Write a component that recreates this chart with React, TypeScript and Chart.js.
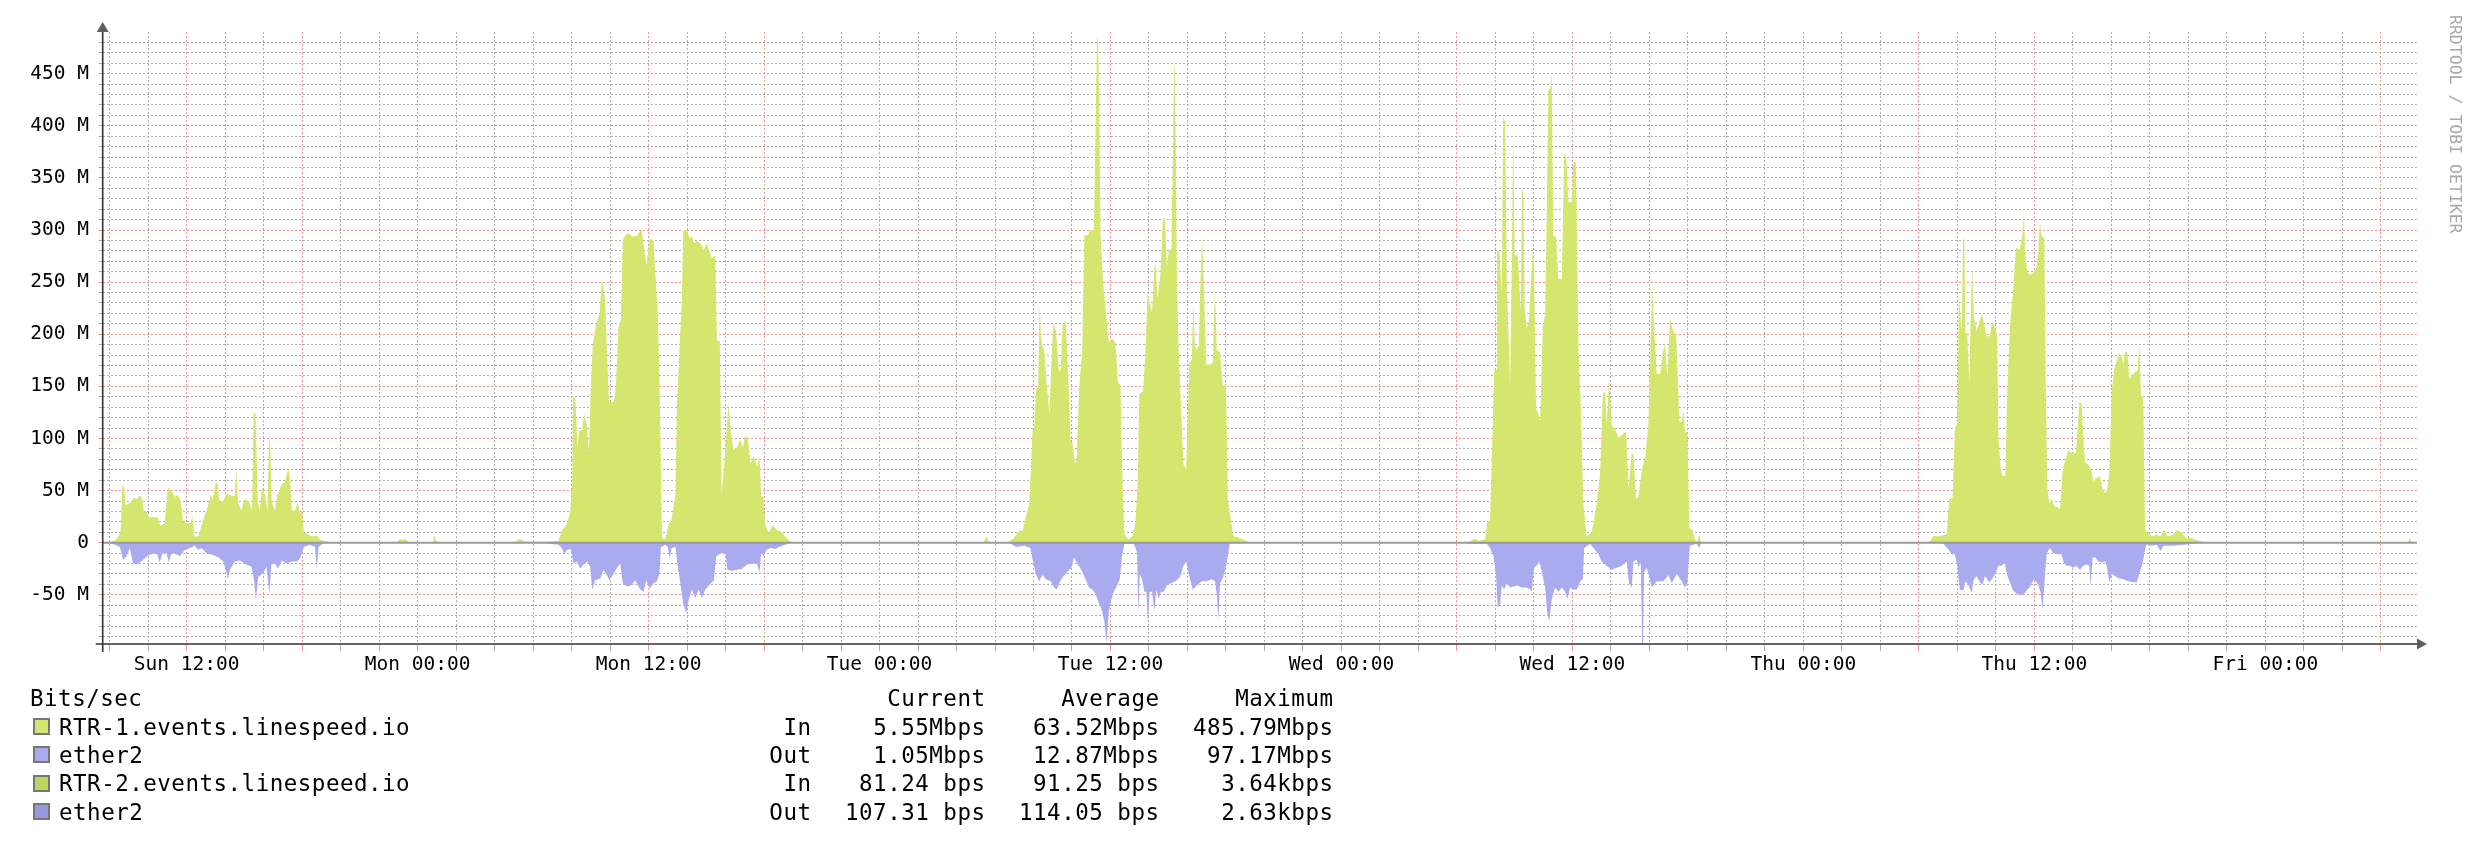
import React, { useEffect, useRef } from 'react';
import { Chart, registerables } from 'chart.js';

Chart.register(...registerables);

const FONT = "'DejaVu Sans Mono', monospace";

// ---- axes ----
const xRange = [7.64, 127.88]; // hours since Sun 00:00
const yRange = [-97.17, 490]; // Mbit/s
const xTickHours = [12, 24, 36, 48, 60, 72, 84, 96, 108, 120];
const xTickLabels = ['Sun 12:00', 'Mon 00:00', 'Mon 12:00', 'Tue 00:00', 'Tue 12:00', 'Wed 00:00', 'Wed 12:00', 'Thu 00:00', 'Thu 12:00', 'Fri 00:00'];

// ---- RTR-1 In (hour, Mbit/s) ----
const sunIn = [[7.64,0],[8.0,0.5],[8.36,3],[8.57,10],[8.66,55],[8.75,54],[8.84,36],[9.05,38],[9.26,43],[9.4,42],[9.57,45],[9.68,43],[9.78,30],[9.92,30],[10.06,24],[10.3,25],[10.5,24],[10.65,16],[10.87,19],[11.02,53],[11.2,50],[11.4,44],[11.57,46],[11.7,38],[11.83,20],[12.03,19],[12.2,19],[12.3,26],[12.4,6],[12.6,6],[12.87,22],[13.07,33],[13.25,46],[13.35,41],[13.52,58],[13.62,56],[13.7,39],[13.9,40],[14.07,47],[14.33,45],[14.5,45],[14.58,70],[14.67,39],[14.85,31],[15.0,42],[15.24,40],[15.4,31],[15.48,124],[15.58,124],[15.69,41],[15.8,30],[15.9,53],[16.07,46],[16.2,30],[16.29,108],[16.35,90],[16.42,39],[16.58,31],[16.72,46],[16.94,56],[17.1,58],[17.28,72],[17.38,60],[17.47,31],[17.64,31],[17.76,39],[17.9,28],[17.98,31],[18.1,10],[18.33,8],[18.5,6],[18.76,7],[18.93,3],[19.37,0.6],[19.5,0]];
const nightIn = [[22.9,0],[23.05,3],[23.4,3],[23.55,0],[24.8,0],[24.88,8],[24.96,2],[25.2,0],[28.1,0],[28.2,1],[28.3,0],[29.1,0],[29.2,3],[29.4,3],[29.6,1],[30.3,1]];
const monIn = [[30.6,1],[30.88,1],[31.32,2],[31.5,12],[31.72,17],[31.92,28],[32.03,57],[32.08,140],[32.2,138],[32.3,92],[32.4,108],[32.55,108],[32.65,124],[32.8,113],[32.9,86],[33.0,150],[33.1,190],[33.27,209],[33.45,220],[33.58,252],[33.66,245],[33.74,233],[33.83,188],[33.94,135],[34.2,135],[34.3,150],[34.44,207],[34.56,214],[34.66,290],[34.78,295],[34.96,297],[35.13,294],[35.36,294],[35.57,299],[35.65,300],[35.77,281],[35.9,266],[36.02,289],[36.12,292],[36.26,289],[36.36,255],[36.47,226],[36.57,153],[36.7,4],[36.87,4],[37.04,17],[37.2,23],[37.4,47],[37.47,130],[37.6,183],[37.73,233],[37.8,300],[38.0,300],[38.13,292],[38.25,294],[38.37,287],[38.5,290],[38.7,287],[38.87,281],[39.03,287],[39.17,279],[39.3,273],[39.47,276],[39.55,194],[39.7,193],[39.8,47],[39.95,79],[40.04,105],[40.16,134],[40.28,105],[40.42,89],[40.6,92],[40.77,99],[40.9,91],[40.98,101],[41.15,102],[41.3,76],[41.47,83],[41.64,73],[41.76,83],[41.85,44],[41.95,44],[42.07,17],[42.24,9],[42.45,17],[42.67,12],[42.88,11],[43.1,6],[43.37,1],[43.5,0]];
const tueBumpIn = [[53.4,0],[53.55,6],[53.7,0]];
const tueIn = [[54.5,0],[54.74,1],[55.0,5],[55.26,12],[55.43,11],[55.6,25],[55.78,37],[55.95,107],[56.03,109],[56.14,149],[56.24,149],[56.32,230],[56.38,200],[56.45,189],[56.55,185],[56.69,151],[56.83,124],[56.93,173],[57.03,211],[57.16,204],[57.33,164],[57.41,166],[57.52,211],[57.67,213],[57.76,181],[57.93,97],[58.03,96],[58.14,77],[58.24,79],[58.38,151],[58.53,183],[58.64,295],[58.83,295],[58.93,300],[59.14,300],[59.24,416],[59.3,486],[59.36,480],[59.42,416],[59.48,297],[59.62,249],[59.74,226],[59.91,192],[60.09,196],[60.26,192],[60.38,154],[60.52,151],[60.6,75],[60.72,8],[60.95,3],[61.12,6],[61.29,18],[61.41,56],[61.5,143],[61.69,145],[61.81,181],[61.93,240],[62.03,230],[62.16,221],[62.28,264],[62.34,268],[62.45,234],[62.59,257],[62.72,310],[62.83,312],[62.93,264],[63.03,281],[63.17,281],[63.24,371],[63.3,458],[63.34,455],[63.4,371],[63.45,257],[63.53,192],[63.66,132],[63.79,75],[63.93,71],[64.1,173],[64.22,175],[64.31,230],[64.38,190],[64.45,185],[64.59,189],[64.66,242],[64.76,293],[64.86,242],[64.97,171],[65.17,171],[65.31,173],[65.43,245],[65.52,185],[65.69,183],[65.83,151],[66.0,151],[66.1,41],[66.2,29],[66.38,6],[66.64,5],[66.9,3],[67.16,1],[67.3,0]];
const wedIn = [[78.4,0],[78.68,1.5],[78.94,4],[79.12,2],[79.46,3],[79.58,20],[79.72,22],[79.86,113],[79.93,166],[80.03,166],[80.08,280],[80.2,280],[80.33,240],[80.4,407],[80.5,405],[80.6,245],[80.76,151],[80.85,264],[80.92,395],[81.0,276],[81.16,276],[81.32,221],[81.37,340],[81.45,336],[81.52,226],[81.63,206],[81.73,211],[81.84,247],[81.94,281],[82.01,264],[82.11,128],[82.22,124],[82.32,116],[82.46,208],[82.58,219],[82.67,321],[82.75,435],[82.84,435],[82.92,450],[83.01,295],[83.15,293],[83.27,253],[83.45,253],[83.57,373],[83.67,371],[83.79,327],[83.97,327],[84.05,365],[84.19,365],[84.31,189],[84.43,132],[84.57,37],[84.74,6],[85.0,10],[85.26,37],[85.44,67],[85.58,143],[85.7,145],[85.78,113],[85.9,158],[86.04,113],[86.22,109],[86.39,101],[86.56,103],[86.79,107],[86.91,52],[87.08,86],[87.17,84],[87.31,42],[87.43,44],[87.6,69],[87.78,82],[87.95,115],[88.03,166],[88.14,247],[88.24,208],[88.38,162],[88.55,162],[88.69,181],[88.81,192],[88.93,158],[89.07,215],[89.25,202],[89.39,200],[89.56,116],[89.68,116],[89.77,126],[89.85,107],[89.97,105],[90.08,14],[90.25,12],[90.37,3],[90.5,1],[90.6,9],[90.68,0]];
const thuIn = [[102.4,0],[102.6,1.6],[102.78,7],[103.0,6],[103.44,8],[103.58,42],[103.75,43],[103.87,109],[103.99,115],[104.08,240],[104.22,201],[104.3,292],[104.36,290],[104.42,201],[104.51,201],[104.62,153],[104.7,224],[104.77,264],[104.86,217],[105.0,203],[105.14,212],[105.28,220],[105.38,211],[105.52,198],[105.69,198],[105.78,211],[105.95,208],[106.07,198],[106.13,102],[106.25,70],[106.35,64],[106.49,64],[106.59,144],[106.73,208],[106.9,243],[107.04,283],[107.25,281],[107.39,297],[107.46,318],[107.53,275],[107.64,259],[107.81,257],[107.98,260],[108.12,264],[108.22,284],[108.29,308],[108.38,294],[108.52,292],[108.59,153],[108.68,51],[108.78,38],[108.9,42],[109.03,35],[109.2,34],[109.33,32],[109.47,70],[109.59,78],[109.77,89],[109.94,86],[110.15,86],[110.25,109],[110.34,136],[110.46,133],[110.54,102],[110.63,77],[110.8,75],[110.97,69],[111.06,59],[111.24,62],[111.41,64],[111.55,50],[111.67,48],[111.79,51],[111.9,70],[112.02,145],[112.14,166],[112.28,174],[112.42,182],[112.54,179],[112.62,171],[112.71,183],[112.83,183],[112.94,157],[113.06,160],[113.23,164],[113.37,165],[113.45,192],[113.54,141],[113.66,139],[113.75,13],[113.87,10],[114.1,6],[114.36,8],[114.53,6],[114.74,13],[114.91,6],[115.22,8],[115.4,12],[115.66,10],[115.88,4],[116.09,5],[116.35,3],[116.61,1.6],[116.8,0]];
const endIn = [[127.4,0],[127.5,5],[127.6,0.5],[127.88,0.5]];

// ---- RTR-1 Out (hour, Mbit/s, drawn below zero) ----
const sunOut = [[7.64,0],[8.1,0.6],[8.53,4],[8.7,16],[8.84,14],[9.05,5],[9.22,20],[9.43,21],[9.7,17],[10.0,12],[10.35,10],[10.46,10],[10.6,19],[10.74,10],[10.96,10],[11.08,19],[11.2,10],[11.48,11],[11.65,13],[11.9,7],[12.17,5],[12.43,3],[12.6,7],[12.78,5],[13.04,10],[13.4,12],[13.65,14],[13.9,18],[14.04,26],[14.15,35],[14.25,26],[14.5,18],[14.77,17],[15.1,21],[15.37,23],[15.5,36],[15.6,55],[15.72,33],[15.98,29],[16.15,23],[16.3,49],[16.4,21],[16.58,20],[16.75,25],[16.94,17],[17.2,20],[17.47,18],[17.73,18],[17.9,15],[18.1,4],[18.4,2],[18.67,4],[18.76,25],[18.86,4],[19.1,0.6],[19.3,0]];
const monOut = [[30.5,0],[31.32,2],[31.5,5],[31.62,11],[31.75,7],[31.96,6],[32.1,20],[32.27,18],[32.45,25],[32.62,21],[32.83,18],[32.96,23],[33.08,45],[33.22,36],[33.5,34],[33.66,26],[33.83,31],[33.97,36],[34.14,31],[34.4,23],[34.53,20],[34.66,39],[34.87,42],[35.08,41],[35.3,36],[35.57,45],[35.74,47],[35.88,36],[36.05,44],[36.26,39],[36.43,37],[36.57,29],[36.64,4],[36.87,2],[37.0,4],[37.1,15],[37.2,5],[37.4,4],[37.5,20],[37.65,39],[37.8,58],[37.96,68],[38.08,55],[38.25,45],[38.43,53],[38.6,45],[38.77,53],[38.95,45],[39.13,41],[39.39,36],[39.52,13],[39.73,10],[39.99,10],[40.1,26],[40.33,27],[40.6,26],[40.86,25],[41.12,21],[41.38,20],[41.64,20],[41.76,29],[41.85,10],[41.98,13],[42.12,7],[42.33,5],[42.6,6],[42.76,4],[43.1,2],[43.37,0.6],[43.5,0]];
const tueOut = [[54.5,0],[54.83,1],[55.09,4],[55.52,3],[55.83,5],[55.95,16],[56.12,30],[56.29,37],[56.47,31],[56.64,35],[56.9,37],[57.07,43],[57.21,45],[57.38,37],[57.52,33],[57.76,28],[57.97,24],[58.1,14],[58.28,20],[58.48,26],[58.71,35],[58.88,43],[59.05,45],[59.22,49],[59.4,58],[59.57,66],[59.69,77],[59.79,96],[59.91,66],[60.03,56],[60.17,47],[60.34,41],[60.48,35],[60.6,13],[60.72,1],[61.21,1],[61.38,9],[61.45,69],[61.52,30],[61.64,35],[61.76,47],[61.86,47],[61.95,79],[62.03,47],[62.16,47],[62.28,66],[62.38,45],[62.5,54],[62.62,47],[62.76,47],[62.93,41],[63.14,39],[63.36,37],[63.62,33],[63.79,22],[63.93,18],[64.1,33],[64.28,45],[64.48,41],[64.74,37],[65.0,37],[65.26,35],[65.43,37],[65.52,50],[65.6,75],[65.69,39],[65.86,33],[66.03,20],[66.2,1],[66.4,0]];
const wedOut = [[78.4,0],[78.68,1],[79.55,1],[79.72,5],[79.9,13],[80.03,31],[80.12,62],[80.24,60],[80.33,41],[80.45,45],[80.59,39],[80.76,43],[81.11,41],[81.37,43],[81.63,43],[81.8,45],[81.88,47],[82.01,24],[82.15,22],[82.29,18],[82.41,28],[82.58,43],[82.7,69],[82.8,75],[82.93,54],[83.1,43],[83.27,47],[83.45,43],[83.62,47],[83.74,54],[83.88,43],[84.05,45],[84.23,45],[84.4,37],[84.54,35],[84.61,5],[84.92,1],[85.09,5],[85.35,11],[85.52,18],[85.78,22],[86.04,26],[86.3,24],[86.56,22],[86.82,18],[86.94,39],[87.08,43],[87.17,18],[87.34,16],[87.43,24],[87.55,18],[87.62,97.17],[87.67,97.17],[87.72,28],[87.86,24],[88.0,33],[88.12,43],[88.38,37],[88.73,37],[88.99,31],[89.16,39],[89.42,30],[89.68,37],[89.85,43],[89.97,39],[90.1,3],[90.45,1],[90.59,5],[90.68,0]];
const thuOut = [[103.0,0],[103.27,1],[103.53,6],[103.7,11],[103.87,11],[103.99,22],[104.13,45],[104.3,46],[104.42,37],[104.56,40],[104.74,48],[104.86,35],[105.0,32],[105.17,38],[105.31,40],[105.43,32],[105.66,38],[105.83,34],[106.0,29],[106.12,22],[106.3,22],[106.47,19],[106.56,30],[106.73,38],[106.9,46],[107.16,50],[107.42,50],[107.6,46],[107.77,42],[107.98,35],[108.2,40],[108.33,48],[108.43,64],[108.55,32],[108.64,10],[108.81,5],[108.98,10],[109.24,11],[109.41,11],[109.53,19],[109.66,22],[109.84,22],[110.01,24],[110.18,22],[110.36,26],[110.54,22],[110.72,21],[110.85,22],[110.92,42],[111.03,14],[111.15,14],[111.32,18],[111.5,19],[111.67,18],[111.76,22],[111.9,38],[112.02,30],[112.19,32],[112.37,34],[112.62,35],[112.88,37],[113.14,38],[113.32,38],[113.46,29],[113.58,22],[113.66,16],[113.8,2],[114.1,3],[114.36,2],[114.56,8],[114.7,3],[115.22,3],[115.74,2],[116.27,1],[116.6,0],[127.88,0]];

// ---- RTR-2 (tiny, in Mbit/s) ----
const rtr2In = [[7.64,0.0000913],[127.88,0.0000812]];
const rtr2Out = [[7.64,0.000114],[127.88,0.000107]];

// ---- legend ----
const legendNames = ['RTR-1.events.linespeed.io', 'ether2', 'RTR-2.events.linespeed.io', 'ether2'];
const legendDirs = ['In', 'Out', 'In', 'Out'];
const legendCurrent = ['5.55Mbps', '1.05Mbps', '81.24 bps', '107.31 bps'];
const legendAverage = ['63.52Mbps', '12.87Mbps', '91.25 bps', '114.05 bps'];
const legendMaximum = ['485.79Mbps', '97.17Mbps', '3.64kbps', '2.63kbps'];
const seriesColors = ['#D4E66E', '#AAAAEE', '#BDD660', '#9898DC'];

const GRID_GRAY = '#AEAEAE';
const GRID_RED = '#F39494';

const toPts = (arr: number[][], sign: number) => arr.map(([x, y]) => ({ x, y: sign * y }));

const decorPlugin = {
  id: 'rrdDecor',
  afterDatasetsDraw(chart: any) {
    const { ctx, chartArea: a, scales } = chart;
    const y0 = scales.y.getPixelForValue(0);
    ctx.save();
    ctx.strokeStyle = '#9a9a9a';
    ctx.lineWidth = 2;
    ctx.beginPath();
    ctx.moveTo(a.left, y0);
    ctx.lineTo(a.right, y0);
    ctx.stroke();
    ctx.strokeStyle = '#333333';
    ctx.lineWidth = 1.6;
    ctx.beginPath();
    ctx.moveTo(a.left, a.bottom + 8);
    ctx.lineTo(a.left, a.top - 2);
    ctx.stroke();
    ctx.beginPath();
    ctx.moveTo(a.left - 7, a.bottom);
    ctx.lineTo(a.right, a.bottom);
    ctx.stroke();
    ctx.fillStyle = '#5f5f5f';
    ctx.beginPath();
    ctx.moveTo(a.left - 6, a.top);
    ctx.lineTo(a.left + 6, a.top);
    ctx.lineTo(a.left, a.top - 10);
    ctx.closePath();
    ctx.fill();
    ctx.beginPath();
    ctx.moveTo(a.right, a.bottom - 5.5);
    ctx.lineTo(a.right, a.bottom + 5.5);
    ctx.lineTo(a.right + 10, a.bottom);
    ctx.closePath();
    ctx.fill();
    ctx.restore();
  },
};

function ChartCanvas() {
  const ref = useRef<HTMLCanvasElement | null>(null);
  useEffect(() => {
    if (!ref.current) return;
    const inAll = [...sunIn, ...nightIn, ...monIn, ...tueBumpIn, ...tueIn, ...wedIn, ...thuIn, ...endIn];
    const outAll = [...sunOut, ...monOut, ...tueOut, ...wedOut, ...thuOut];
    const common = { fill: 'origin', borderWidth: 0, pointRadius: 0, tension: 0 };
    const xGrid: number[] = [];
    for (let h = Math.ceil(xRange[0] / 2) * 2; h <= xRange[1]; h += 2) xGrid.push(h);
    const yGrid: number[] = [];
    for (let v = Math.ceil(yRange[0] / 10) * 10; v <= yRange[1] - 5; v += 10) yGrid.push(v);

    const chart = new Chart(ref.current, {
      type: 'line',
      data: {
        datasets: [
          { label: legendNames[0] + ' In', data: toPts(inAll, 1), backgroundColor: seriesColors[0], borderColor: seriesColors[0], ...common },
          { label: legendNames[1] + ' Out', data: toPts(outAll, -1), backgroundColor: seriesColors[1], borderColor: seriesColors[1], ...common },
          { label: legendNames[2] + ' In', data: toPts(rtr2In, 1), backgroundColor: seriesColors[2], borderColor: seriesColors[2], ...common },
          { label: legendNames[3] + ' Out', data: toPts(rtr2Out, -1), backgroundColor: seriesColors[3], borderColor: seriesColors[3], ...common },
        ] as any,
      },
      options: {
        responsive: false,
        maintainAspectRatio: false,
        devicePixelRatio: 1,
        animation: false,
        events: [],
        layout: { padding: { left: 0, right: 59, top: 32, bottom: 0 } },
        plugins: { legend: { display: false }, tooltip: { enabled: false }, title: { display: false } },
        scales: {
          x: {
            type: 'linear',
            min: xRange[0],
            max: xRange[1],
            afterBuildTicks: (s: any) => { s.ticks = xGrid.map((v) => ({ value: v })); },
            afterFit: (s: any) => { s.height = 214; },
            grid: {
              color: (c: any) => (c.tick && c.tick.value % 6 === 0 ? GRID_RED : GRID_GRAY),
              tickColor: (c: any) => (c.tick && c.tick.value % 6 === 0 ? GRID_RED : GRID_GRAY),
              lineWidth: 1,
              tickLength: 7,
              drawTicks: true,
            },
            border: { display: false, dash: [2, 2] },
            ticks: {
              autoSkip: false,
              maxRotation: 0,
              minRotation: 0,
              padding: 2,
              color: '#000',
              font: { family: FONT, size: 19.5 },
              callback: (v: any) => {
                const i = xTickHours.indexOf(Number(v));
                return i >= 0 ? xTickLabels[i] : '';
              },
            },
          },
          y: {
            type: 'linear',
            min: yRange[0],
            max: yRange[1],
            afterBuildTicks: (s: any) => { s.ticks = yGrid.map((v) => ({ value: v })); },
            afterFit: (s: any) => { s.width = 102.7; },
            grid: {
              color: (c: any) => (c.tick && c.tick.value % 50 === 0 ? GRID_RED : GRID_GRAY),
              tickColor: (c: any) => (c.tick && c.tick.value % 50 === 0 ? GRID_RED : GRID_GRAY),
              lineWidth: 1,
              tickLength: 4,
              drawTicks: true,
            },
            border: { display: false, dash: [2, 2] },
            ticks: {
              autoSkip: false,
              padding: 9.7,
              color: '#000',
              font: { family: FONT, size: 19.5 },
              callback: (v: any) => {
                const n = Number(v);
                if (n % 50 !== 0) return '';
                return n === 0 ? '0' : `${n} M`;
              },
            },
          },
        },
      } as any,
      plugins: [decorPlugin],
    });
    return () => chart.destroy();
  }, []);
  return <canvas ref={ref} width={2476} height={858} style={{ position: 'absolute', left: 0, top: 0, width: 2476, height: 858 }} />;
}

const ROW0 = 698.3;
const ROWH = 28.3;
const LS = 0.5;
const textStyle: React.CSSProperties = {
  position: 'absolute',
  fontFamily: FONT,
  fontSize: 22.5,
  letterSpacing: `${LS}px`,
  lineHeight: '28px',
  height: 28,
  whiteSpace: 'pre',
  color: '#000',
};

function LegendCell({ text, row, left, rightEdge }: { text: string; row: number; left?: number; rightEdge?: number }) {
  const top = ROW0 + row * ROWH - 14;
  const pos: React.CSSProperties = left !== undefined ? { left } : { right: 2476 - (rightEdge as number) - LS };
  return <div style={{ ...textStyle, top, ...pos }}>{text}</div>;
}

export default function App() {
  const colRights = [811, 985, 1159, 1333];
  return (
    <div style={{ position: 'absolute', left: 0, top: 0, width: 2476, height: 858, background: '#fff', overflow: 'hidden' }}>
      <ChartCanvas />
      <LegendCell text="Bits/sec" row={0} left={30} />
      <LegendCell text="Current" row={0} rightEdge={colRights[1]} />
      <LegendCell text="Average" row={0} rightEdge={colRights[2]} />
      <LegendCell text="Maximum" row={0} rightEdge={colRights[3]} />
      {legendNames.map((name, i) => (
        <React.Fragment key={i}>
          <div
            style={{
              position: 'absolute',
              left: 33,
              top: ROW0 + (i + 1) * ROWH - 8.5,
              width: 17,
              height: 17,
              boxSizing: 'border-box',
              border: '2px solid #777',
              background: seriesColors[i],
            }}
          />
          <LegendCell text={name} row={i + 1} left={59} />
          <LegendCell text={legendDirs[i]} row={i + 1} rightEdge={colRights[0]} />
          <LegendCell text={legendCurrent[i]} row={i + 1} rightEdge={colRights[1]} />
          <LegendCell text={legendAverage[i]} row={i + 1} rightEdge={colRights[2]} />
          <LegendCell text={legendMaximum[i]} row={i + 1} rightEdge={colRights[3]} />
        </React.Fragment>
      ))}
      <div
        style={{
          position: 'absolute',
          left: 2446,
          top: 15,
          width: 18,
          writingMode: 'vertical-rl',
          fontFamily: FONT,
          fontSize: 16.5,
          lineHeight: '18px',
          color: '#A8A8A8',
          whiteSpace: 'pre',
        }}
      >
        RRDTOOL / TOBI OETIKER
      </div>
    </div>
  );
}
